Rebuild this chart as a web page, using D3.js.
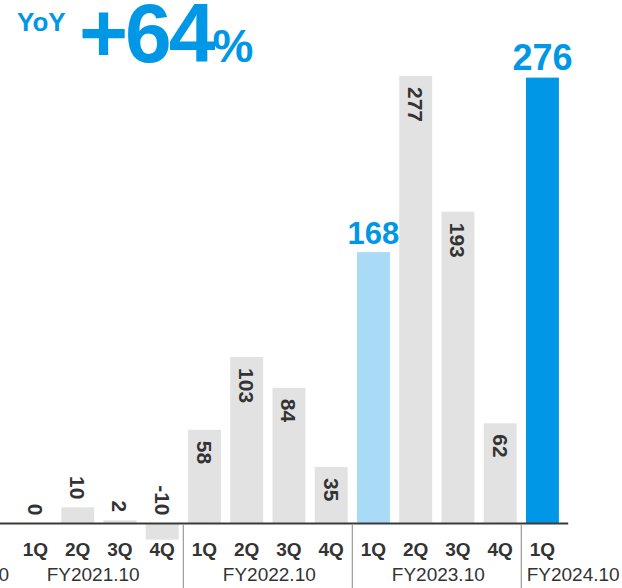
<!DOCTYPE html>
<html>
<head>
<meta charset="utf-8">
<script src="https://cdn.jsdelivr.net/npm/d3@7/dist/d3.min.js"></script>
<style>
  html, body { margin: 0; padding: 0; background: #fff; }
  svg { display: block; font-family: "Liberation Sans", Arial, Helvetica, sans-serif; }
</style>
</head>
<body>
<svg id="chart" width="622" height="588"></svg>
<script>
// Quarterly values, grouped by fiscal year
const quarters = ["1Q","2Q","3Q","4Q","1Q","2Q","3Q","4Q","1Q","2Q","3Q","4Q","1Q"];
const fiscalYears = ["FY2021.10","FY2021.10","FY2021.10","FY2021.10",
                     "FY2022.10","FY2022.10","FY2022.10","FY2022.10",
                     "FY2023.10","FY2023.10","FY2023.10","FY2023.10",
                     "FY2024.10"];
const values = [0, 10, 2, -10, 58, 103, 84, 35, 168, 277, 193, 62, 276];
// index of the same quarter last year and the current quarter
const prevIndex = 8;
const currIndex = 12;
const yoyLabel = "YoY";
const yoyValue = "+64";
const yoyUnit = "%";
const hiddenYear = "FY2020.10";

const W = 622, H = 588;
const svg = d3.select("#chart");

const idx = d3.range(values.length);
const x = d3.scaleBand().domain(idx).range([9.7, 568.2])
  .paddingInner(0.22).paddingOuter(0.22);
const y = d3.scaleLinear().domain([0, 277]).range([523.5, 76]);

const colGray = "#e2e2e2", colLight = "#a9dbf6", colBlue = "#0097e6", colText = "#333333";

function fill(i) {
  if (i === currIndex) return colBlue;
  if (i === prevIndex) return colLight;
  return colGray;
}

// bars
svg.append("g").selectAll("rect").data(idx).join("rect")
  .attr("x", i => x(i))
  .attr("width", x.bandwidth())
  .attr("y", i => Math.min(y(values[i]), y(0)))
  .attr("height", i => Math.abs(y(values[i]) - y(0)))
  .attr("fill", fill);

// baseline
svg.append("line")
  .attr("x1", 0).attr("x2", x.range()[1])
  .attr("y1", y(0)).attr("y2", y(0))
  .attr("stroke", "#3a3a3a").attr("stroke-width", 2);

// rotated value labels for gray bars
const plain = idx.filter(i => i !== prevIndex && i !== currIndex);
const isTall = i => y(0) - y(values[i]) > 40;
svg.append("g").selectAll("text").data(plain).join("text")
  .attr("transform", i => {
    const cx = x(i) + x.bandwidth() / 2;
    const top = y(values[i]);
    const ty = isTall(i) ? top + 11 : Math.min(top, y(0)) - 8;
    return `translate(${cx},${ty}) rotate(90)`;
  })
  .attr("text-anchor", i => isTall(i) ? "start" : "end")
  .attr("dy", "0.36em")
  .attr("font-size", 21).attr("font-weight", "bold")
  .attr("fill", colText)
  .text(i => values[i]);

// highlighted value labels
svg.append("g").selectAll("text").data([prevIndex, currIndex]).join("text")
  .attr("x", i => x(i) + x.bandwidth() / 2)
  .attr("y", i => y(values[i]) - 8)
  .attr("text-anchor", "middle")
  .attr("font-size", i => i === currIndex ? 36 : 31)
  .attr("font-weight", "bold")
  .attr("fill", colBlue)
  .text(i => values[i]);

// quarter tick labels
svg.append("g").selectAll("text").data(idx).join("text")
  .attr("x", i => x(i) + x.bandwidth() / 2)
  .attr("y", 556)
  .attr("text-anchor", "middle")
  .attr("font-size", 19).attr("font-weight", "bold")
  .attr("fill", colText)
  .text(i => quarters[i]);

// fiscal year separators and labels
const years = Array.from(new Set(fiscalYears));
const gap = x.step() - x.bandwidth();
const seps = [];
years.forEach((fy, k) => {
  if (k === 0) return;
  const first = fiscalYears.indexOf(fy);
  seps.push(x(first) - gap / 2);
});
svg.append("g").selectAll("line").data(seps).join("line")
  .attr("x1", d => d).attr("x2", d => d)
  .attr("y1", y(0) + 1).attr("y2", H)
  .attr("stroke", "#9a9a9a").attr("stroke-width", 1.2);

const bounds = [0, ...seps, W];
svg.append("g").selectAll("text").data(years).join("text")
  .attr("x", (fy, k) => (bounds[k] + bounds[k + 1]) / 2 + 1.5)
  .attr("y", 581)
  .attr("text-anchor", "middle")
  .attr("font-size", 19)
  .attr("fill", colText)
  .text(d => d);

// previous year's label, running off the left edge
svg.append("text")
  .attr("x", x(0) - 10).attr("y", 581)
  .attr("text-anchor", "end")
  .attr("font-size", 19).attr("fill", colText)
  .text(hiddenYear);

// YoY headline
svg.append("text")
  .attr("x", 17).attr("y", 31)
  .attr("font-size", 26).attr("font-weight", "bold")
  .attr("fill", colBlue)
  .text(yoyLabel);

const head = svg.append("text")
  .attr("x", 79).attr("y", 62)
  .attr("font-weight", "bold").attr("fill", colBlue);
head.append("tspan").attr("font-size", 84).attr("letter-spacing", -3).text(yoyValue);
head.append("tspan").attr("font-size", 46).attr("dx", 0).text(yoyUnit);
</script>
</body>
</html>
